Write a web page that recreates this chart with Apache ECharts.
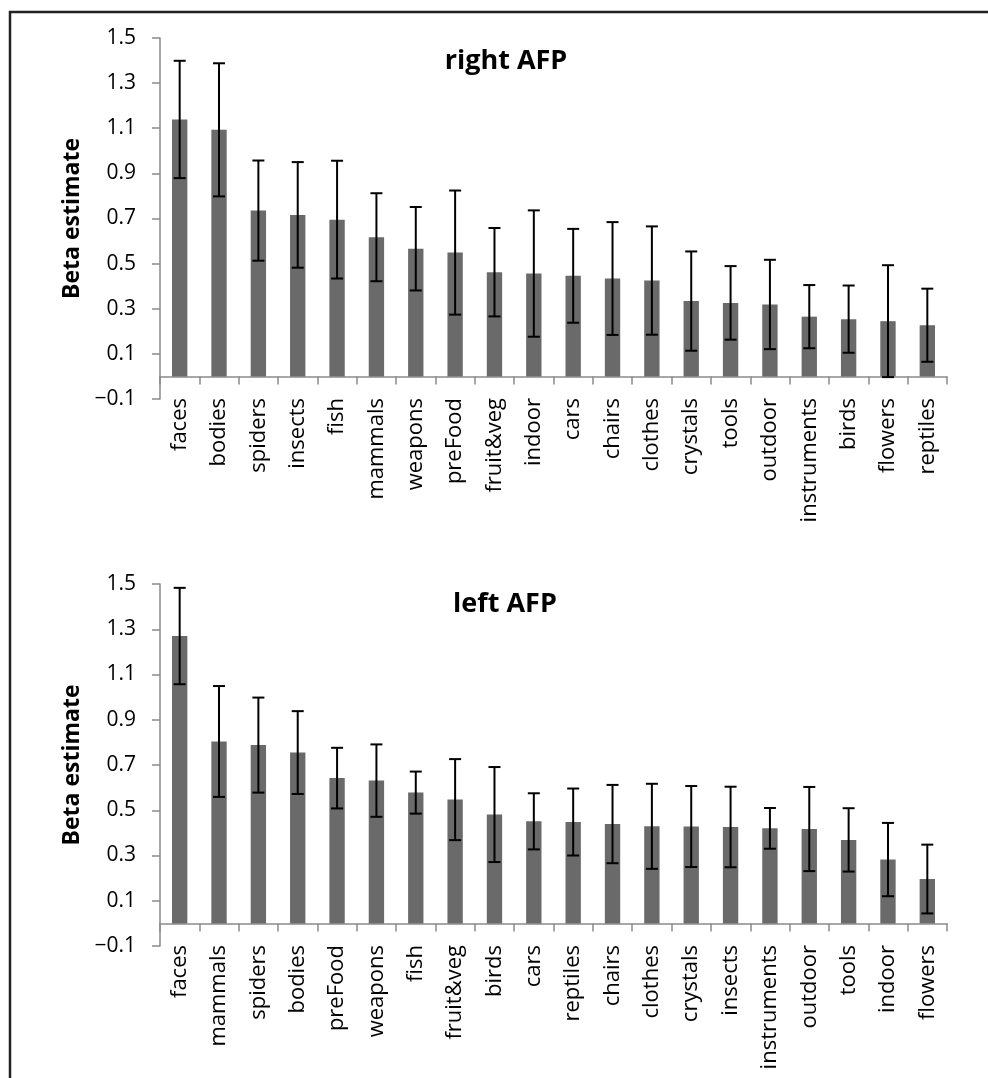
<!DOCTYPE html>
<html><head><meta charset="utf-8">
<script src="https://cdn.jsdelivr.net/npm/echarts@6/dist/echarts.min.js"></script>
<style>html,body{margin:0;padding:0;background:#fff}#c{width:988px;height:1078px}</style>
</head><body><div id="c"></div>
<script>
// ---- data ----
const rightCategories = ['faces','bodies','spiders','insects','fish','mammals','weapons','preFood','fruit&veg','indoor','cars','chairs','clothes','crystals','tools','outdoor','instruments','birds','flowers','reptiles'];
const rightValues = [1.139,1.093,0.735,0.716,0.695,0.617,0.566,0.549,0.462,0.456,0.446,0.434,0.425,0.334,0.326,0.319,0.265,0.254,0.245,0.227];
const rightErrors = [0.26,0.295,0.222,0.234,0.261,0.195,0.185,0.275,0.196,0.28,0.208,0.25,0.24,0.22,0.163,0.198,0.14,0.149,0.248,0.162];

const leftCategories = ['faces','mammals','spiders','bodies','preFood','weapons','fish','fruit&veg','birds','cars','reptiles','chairs','clothes','crystals','insects','instruments','outdoor','tools','indoor','flowers'];
const leftValues = [1.270,0.804,0.788,0.755,0.642,0.631,0.578,0.547,0.481,0.451,0.448,0.439,0.429,0.428,0.426,0.420,0.417,0.369,0.282,0.196];
const leftErrors = [0.213,0.245,0.21,0.183,0.134,0.16,0.093,0.179,0.21,0.124,0.148,0.173,0.188,0.179,0.178,0.09,0.186,0.14,0.162,0.152];

const yTickValues = [-0.1,0.1,0.3,0.5,0.7,0.9,1.1,1.3,1.5];
const chartTitles = ['right AFP','left AFP'];
const yAxisTitle = 'Beta estimate';

// ---- chart ----
const FONT = 'Open Sans';
const AXIS_COLOR = '#8a8a8a';
const grids = [
  {left:160, right:41, top:38, height:361},
  {left:160, right:41, top:584, height:362}
];

function errData(vals, errs){
  return vals.map((v,i)=>[i, v-errs[i], v+errs[i]]);
}
function errRender(params, api){
  const i = api.value(0);
  const lo = api.coord([i, api.value(1)]);
  const hi = api.coord([i, api.value(2)]);
  const hw = 6;
  const st = {stroke:'#000', lineWidth:2};
  return {type:'group', children:[
    {type:'line', shape:{x1:lo[0],y1:lo[1],x2:hi[0],y2:hi[1]}, style:st},
    {type:'line', shape:{x1:hi[0]-hw,y1:hi[1],x2:hi[0]+hw,y2:hi[1]}, style:st},
    {type:'line', shape:{x1:lo[0]-hw,y1:lo[1],x2:lo[0]+hw,y2:lo[1]}, style:st}
  ]};
}
function xAxisFor(idx, cats){
  return {
    type:'category', gridIndex:idx, data:cats, boundaryGap:true,
    axisLine:{show:true, onZero:true, lineStyle:{color:AXIS_COLOR, width:1.5}},
    axisTick:{show:true, length:8, alignWithLabel:false, lineStyle:{color:AXIS_COLOR, width:1.5}},
    axisLabel:{interval:0, rotate:90, margin:-1, color:'#000', fontFamily:FONT, fontSize:22}
  };
}
function yAxisFor(idx){
  return {
    type:'value', gridIndex:idx, min:-0.1, max:1.5, interval:0.2,
    name:yAxisTitle, nameLocation:'middle', nameGap:74, nameRotate:90,
    nameTextStyle:{fontFamily:FONT, fontWeight:'bold', fontSize:23, color:'#000'},
    axisLine:{show:true, lineStyle:{color:AXIS_COLOR, width:1.5}},
    axisTick:{show:true, length:8, lineStyle:{color:AXIS_COLOR, width:1.5}},
    splitLine:{show:false},
    axisLabel:{margin:24, color:'#000', fontFamily:FONT, fontSize:21,
      formatter:v=>(Math.round(v*10)/10).toFixed(1).replace('-','\u2212')}
  };
}

const chart = echarts.init(document.getElementById('c'), null, {renderer:'canvas'});
chart.setOption({
  animation:false,
  backgroundColor:'#fff',
  grid:grids,
  xAxis:[xAxisFor(0,rightCategories), xAxisFor(1,leftCategories)],
  yAxis:[yAxisFor(0), yAxisFor(1)],
  graphic:[
    {type:'rect', shape:{x:10, y:12, width:1100, height:1200}, style:{fill:'none', stroke:'#222', lineWidth:2.5}, silent:true},
    {type:'text', x:506, y:61, style:{text:chartTitles[0], fontFamily:FONT, fontWeight:'bold', fontSize:27, fill:'#000', align:'center', verticalAlign:'middle'}},
    {type:'text', x:505, y:604, style:{text:chartTitles[1], fontFamily:FONT, fontWeight:'bold', fontSize:27, fill:'#000', align:'center', verticalAlign:'middle'}}
  ],
  series:[
    {type:'bar', xAxisIndex:0, yAxisIndex:0, data:rightValues, barWidth:'39%', itemStyle:{color:'#6a6a6a'}},
    {type:'custom', xAxisIndex:0, yAxisIndex:0, data:errData(rightValues,rightErrors), renderItem:errRender, encode:{x:0, y:[1,2]}, z:5},
    {type:'bar', xAxisIndex:1, yAxisIndex:1, data:leftValues, barWidth:'39%', itemStyle:{color:'#6a6a6a'}},
    {type:'custom', xAxisIndex:1, yAxisIndex:1, data:errData(leftValues,leftErrors), renderItem:errRender, encode:{x:0, y:[1,2]}, z:5}
  ]
});
</script>
</body></html>
